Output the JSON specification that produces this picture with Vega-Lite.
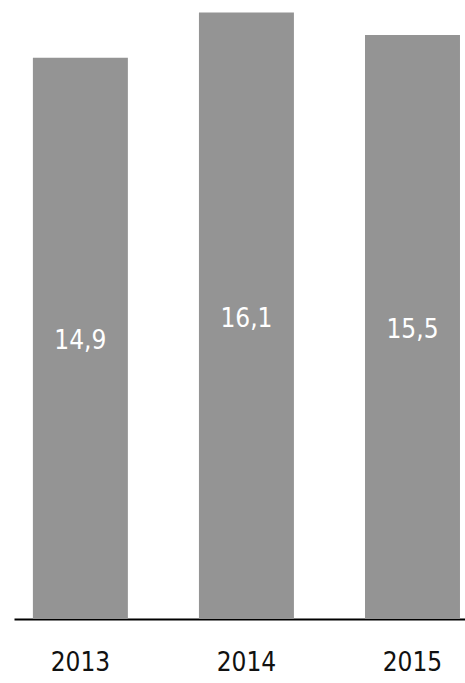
{
  "$schema": "https://vega.github.io/schema/vega-lite/v6.json",
  "width": 451,
  "height": 619,
  "autosize": {"type": "none"},
  "padding": {"left": 14, "top": 0, "right": 0, "bottom": 64},
  "background": "white",
  "config": {"view": {"stroke": null}},
  "data": {"values": [
    {"year": "2013", "value": 14.9, "label": "14,9"},
    {"year": "2014", "value": 16.1, "label": "16,1"},
    {"year": "2015", "value": 15.5, "label": "15,5"}
  ]},
  "encoding": {
    "x": {"field": "year", "type": "nominal", "sort": null,
      "scale": {"paddingInner": 0.428, "paddingOuter": 0.072, "align": 0.79},
      "axis": {"title": null, "ticks": false, "domainColor": "#000000", "domainWidth": 2, "labelAngle": 0,
        "labelFont": "DejaVu Sans Condensed, Roboto", "labelFontSize": 26, "labelColor": "#111111", "labelPadding": 30, "labelBaseline": "top"}}
  },
  "layer": [
    {
      "mark": {"type": "bar", "color": "#949494"},
      "encoding": {
        "y": {"field": "value", "type": "quantitative", "scale": {"domain": [0, 16.43], "nice": false, "zero": true}, "axis": null}
      }
    },
    {
      "mark": {"type": "text", "color": "white", "font": "DejaVu Sans Condensed, Roboto", "fontSize": 26, "baseline": "middle", "dy": 3},
      "encoding": {
        "y": {"field": "value", "type": "quantitative", "scale": {"domain": [0, 32.86], "nice": false, "zero": true}, "axis": null},
        "text": {"field": "label"}
      }
    }
  ],
  "resolve": {"scale": {"y": "independent"}}
}
